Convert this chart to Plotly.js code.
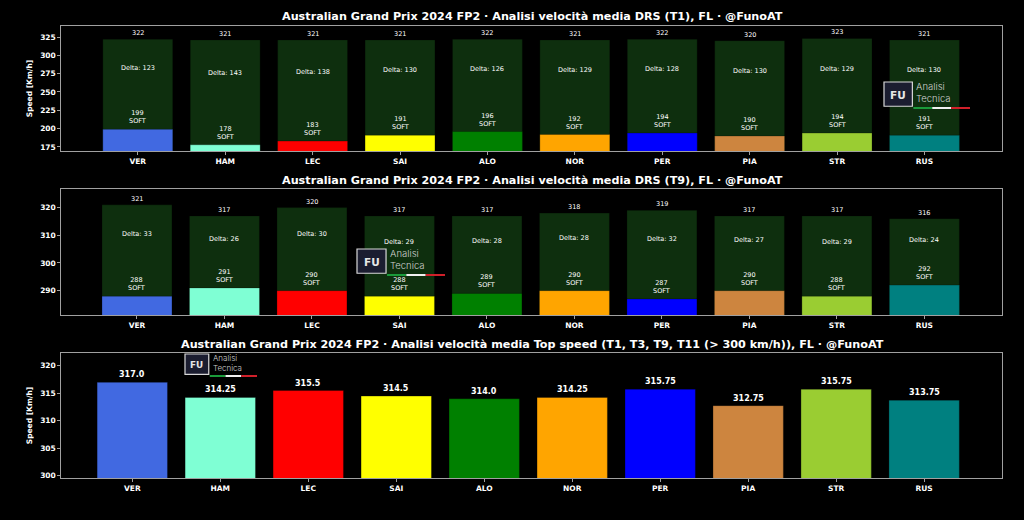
<!DOCTYPE html>
<html>
<head>
<meta charset="utf-8">
<script src="https://cdn.plot.ly/plotly-3.0.1.min.js"></script>
<style>
html,body{margin:0;padding:0;background:#000;}
#chart{width:1024px;height:520px;}
</style>
</head>
<body>
<div id="chart"></div>
<script>
// ---------------- DATA ----------------
const drivers = ["VER","HAM","LEC","SAI","ALO","NOR","PER","PIA","STR","RUS"];
const teamColors = ["#4169E1","#7FFFD4","#FF0000","#FFFF00","#008000","#FFA500","#0000FF","#CD853F","#9ACD32","#008080"];
const compound = ["SOFT","SOFT","SOFT","SOFT","SOFT","SOFT","SOFT","SOFT","SOFT","SOFT"];

const t1Max = [322,321,321,321,322,321,322,320,323,321];
const t1Min = [199,178,183,191,196,192,194,190,194,191];

const t9Max = [321,317,320,317,317,318,319,317,317,316];
const t9Min = [288,291,290,288,289,290,287,290,288,292];

const topSpeedAvg = [317.0,314.25,315.5,314.5,314.0,314.25,315.75,312.75,315.75,313.75];
const topSpeedLabels = ["317.0","314.25","315.5","314.5","314.0","314.25","315.75","312.75","315.75","313.75"];

const titles = [
  "Australian Grand Prix 2024 FP2 · Analisi velocità media DRS (T1), FL · @FunoAT",
  "Australian Grand Prix 2024 FP2 · Analisi velocità media DRS (T9), FL · @FunoAT",
  "Australian Grand Prix 2024 FP2 · Analisi velocità media Top speed (T1, T3, T9, T11 (> 300 km/h)), FL · @FunoAT"
];
const yTitle = "Speed [Km/h]";

// ---------------- STYLE ----------------
const W = 1024, H = 520;
const px = x => x / W;
const py = y => 1 - y / H;
const FONT = "DejaVu Sans";
const darkBar = "#0e2f0e";
const spine = "#a0a0a0";

const traces = [];
function rangePanel(maxv, minv, xa, ya) {
  traces.push({type:"bar", x:drivers, y:maxv, xaxis:xa, yaxis:ya, width:0.8,
    marker:{color:darkBar, line:{color:"rgba(0,0,0,0.25)", width:1}}, hoverinfo:"skip"});
  traces.push({type:"bar", x:drivers, y:minv, xaxis:xa, yaxis:ya, width:0.8,
    marker:{color:teamColors, line:{color:"rgba(0,0,0,0.25)", width:1}}, hoverinfo:"skip"});
}
rangePanel(t1Max, t1Min, "x", "y");
rangePanel(t9Max, t9Min, "x2", "y2");
traces.push({type:"bar", x:drivers, y:topSpeedAvg, xaxis:"x3", yaxis:"y3", width:0.8,
  marker:{color:teamColors, line:{color:"rgba(0,0,0,0.3)", width:1}}, hoverinfo:"skip"});

const annotations = [];
function rangeLabels(maxv, minv, xr, yr) {
  drivers.forEach((d, i) => {
    const delta = maxv[i] - minv[i];
    annotations.push({xref:xr, yref:yr, x:d, y:maxv[i], text:String(maxv[i]), showarrow:false,
      yanchor:"bottom", yshift:0, font:{family:FONT, size:6.5, color:"#fff"}});
    annotations.push({xref:xr, yref:yr, x:d, y:maxv[i] - 0.32*delta, text:"Delta: " + delta, showarrow:false,
      yanchor:"middle", font:{family:FONT, size:6.5, color:"#fff"}});
    annotations.push({xref:xr, yref:yr, x:d, y:minv[i], text:minv[i] + "<br>" + compound[i], showarrow:false,
      yanchor:"bottom", yshift:2, font:{family:FONT, size:6.5, color:"#fff"}});
  });
}
rangeLabels(t1Max, t1Min, "x", "y");
rangeLabels(t9Max, t9Min, "x2", "y2");
drivers.forEach((d, i) => {
  annotations.push({xref:"x3", yref:"y3", x:d, y:topSpeedAvg[i], text:topSpeedLabels[i], showarrow:false,
    yanchor:"bottom", yshift:1, font:{family:FONT, size:8, color:"#fff", weight:"bold"}});
});

// panel titles
const titleY = [16, 180, 344];
titles.forEach((t, k) => {
  annotations.push({xref:"paper", yref:"paper", x:px(532), y:py(titleY[k]), text:t, showarrow:false,
    xanchor:"center", yanchor:"middle", font:{family:FONT, size:11.2, color:"#fff", weight:"bold"}});
});

// logos (decoration)
const shapes = [];
function logo(x0, y0, w, h) {
  const iw = w * 0.33;
  shapes.push({type:"rect", xref:"paper", yref:"paper", x0:px(x0), x1:px(x0+iw), y0:py(y0+h*0.97), y1:py(y0),
    fillcolor:"#1b1d30", line:{color:"#d8d8d8", width:1.2}});
  annotations.push({xref:"paper", yref:"paper", x:px(x0+iw/2), y:py(y0+h/2), text:"FU", showarrow:false,
    xanchor:"center", yanchor:"middle", font:{family:FONT, size:h*0.42, color:"#e6e6e6", weight:"bold"}});
  const tx = x0 + iw + 2;
  annotations.push({xref:"paper", yref:"paper", x:px(tx), y:py(y0 + h*0.42), text:"Analisi<br>Tecnica", showarrow:false,
    xanchor:"left", yanchor:"middle", align:"left", font:{family:"Inter", size:h*0.38, color:"#cfcfcf", weight:300}});
  const lx0 = x0 + iw + 1, lx1 = x0 + w, seg = (lx1 - lx0) / 3, ly = y0 + h + 1;
  ["#1a9a3a", "#f0f0f0", "#d0202a"].forEach((c, j) => {
    shapes.push({type:"line", xref:"paper", yref:"paper", x0:px(lx0 + j*seg), x1:px(lx0 + (j+1)*seg),
      y0:py(ly), y1:py(ly), line:{color:c, width:2}});
  });
}
logo(884, 82, 86, 25);
logo(357, 249, 88, 25);
logo(185, 354, 72, 21);

function xax(range) {
  return {type:"category", range:range, domain:[px(61.3), px(1002)], showline:true, mirror:true,
    linecolor:spine, linewidth:1, ticks:"outside", ticklen:3, tickcolor:spine, showgrid:false, zeroline:false,
    tickfont:{family:FONT, size:7.5, color:"#fff", weight:"bold"}, fixedrange:true};
}
function yax(range, dtick, dom, title) {
  const a = {range:range, dtick:dtick, domain:dom, showline:true, mirror:true, linecolor:spine, linewidth:1,
    ticks:"outside", ticklen:3, tickcolor:spine, showgrid:false, zeroline:false,
    tickfont:{family:FONT, size:7.5, color:"#fff", weight:"bold"}, fixedrange:true};
  if (title) a.title = {text:title, font:{family:FONT, size:7.5, color:"#fff", weight:"bold"}, standoff:6};
  return a;
}

const layout = {
  width:W, height:H, paper_bgcolor:"#000", plot_bgcolor:"#000",
  margin:{l:0, r:0, t:0, b:0}, showlegend:false, barmode:"overlay", bargap:0.2,
  xaxis:xax([-0.875, 9.887]),
  yaxis:yax([169.5, 340], 25, [py(151), py(26)], yTitle),
  xaxis2:Object.assign(xax([-0.865, 9.887]), {anchor:"y2"}),
  yaxis2:Object.assign(yax([281.1, 326.6], 10, [py(315.3), py(189.3)], null), {anchor:"x2"}),
  xaxis3:Object.assign(xax([-0.807, 9.885]), {anchor:"y3"}),
  yaxis3:Object.assign(yax([299.5, 322.4], 5, [py(478.3), py(352.7)], yTitle), {anchor:"x3"}),
  annotations:annotations, shapes:shapes
};
layout.xaxis.anchor = "y";
layout.yaxis.anchor = "x";

Plotly.newPlot("chart", traces, layout, {staticPlot:true, displayModeBar:false});
</script>
</body>
</html>
